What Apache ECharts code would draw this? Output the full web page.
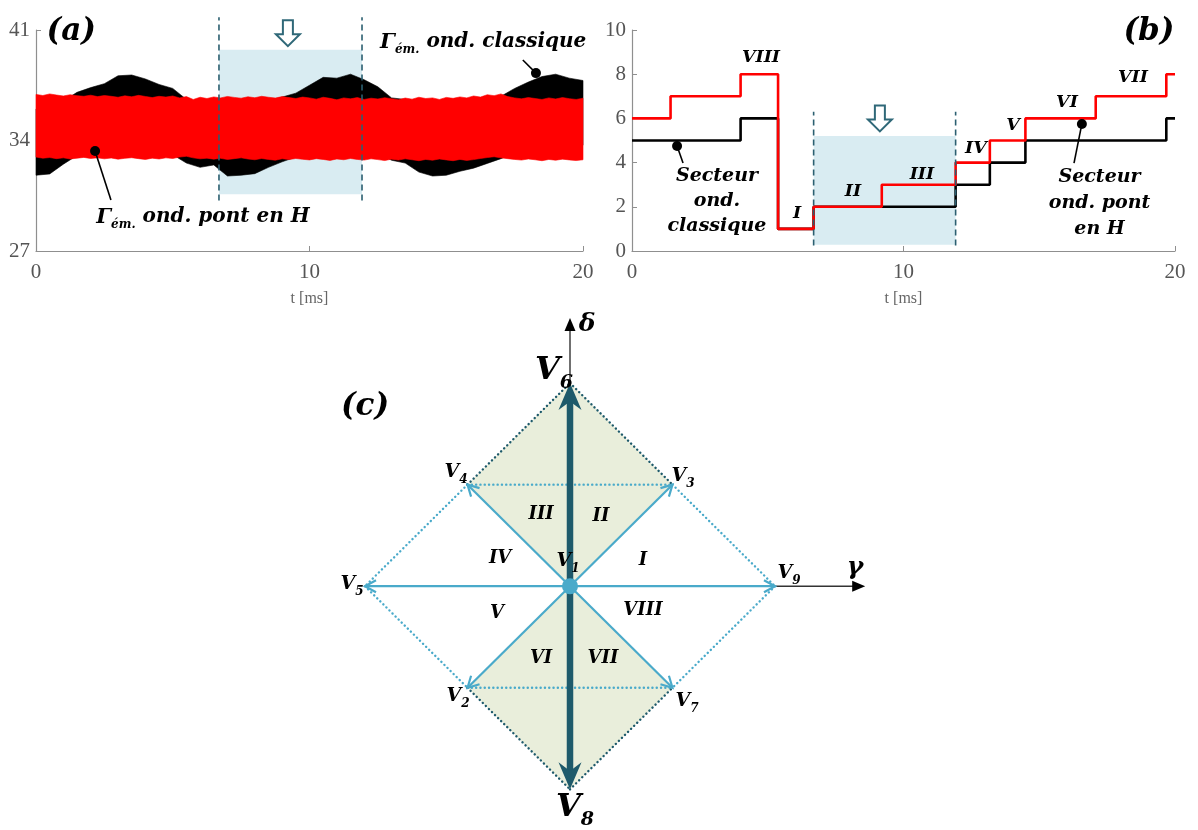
<!DOCTYPE html>
<html><head><meta charset="utf-8">
<script src="https://cdn.jsdelivr.net/npm/echarts@6/dist/echarts.min.js"></script>
<style>html,body{margin:0;padding:0;background:#fff}#c{width:1198px;height:830px}</style>
</head><body><div id="c"></div><script>
// ================= DATA =================
// Panel (a): electromagnetic torque envelopes
const redT = [0,0.25,0.5,0.75,1,1.25,1.5,1.75,2,2.25, 2.5,2.75,3,3.25,3.5,3.75,4,4.25,4.5,4.75,
  5,5.25,5.5,5.75,6,6.25,6.5,6.75,7,7.25, 7.5,7.75,8,8.25,8.5,8.75,9,9.25,9.5,9.75,
  10,10.25,10.5,10.75,11,11.25,11.5,11.75,12,12.25, 12.5,12.75,13,13.25,13.5,13.75,14,14.25,14.5,14.75,
  15,15.25,15.5,15.75,16,16.25,16.5,16.75,17,17.25, 17.5,17.75,18,18.25,18.5,18.75,19,19.25,19.5,19.75, 20];
const redUpper = [36.92,36.85,36.95,36.88,36.82,36.90,36.84,36.80,36.87,36.78,
  36.85,36.80,36.74,36.83,36.77,36.86,36.79,36.72,36.80,36.75,
  36.82,36.70,36.78,36.60,36.74,36.66,36.76,36.70,36.79,36.73,
  36.68,36.77,36.71,36.80,36.74,36.69,36.78,36.72,36.66,36.75,
  36.70,36.62,36.74,36.67,36.58,36.70,36.64,36.72,36.60,36.68,
  36.63,36.71,36.65,36.58,36.69,36.62,36.74,36.66,36.70,36.60,
  36.73,36.67,36.76,36.70,36.82,36.75,36.90,36.84,36.95,36.78,
  36.70,36.64,36.72,36.66,36.60,36.70,36.63,36.72,36.65,36.60, 36.68];
const redLower = [32.95,32.88,32.92,32.85,32.90,32.83,32.88,32.93,32.86,32.90,
  32.84,32.89,32.82,32.87,32.91,32.85,32.80,32.88,32.83,32.90,
  32.86,32.95,33.00,32.90,32.84,32.88,32.82,32.87,32.80,32.85,
  32.90,32.83,32.78,32.86,32.80,32.75,32.84,32.79,32.86,32.81,
  32.77,32.85,32.80,32.74,32.83,32.78,32.86,32.80,32.76,32.84,
  32.79,32.73,32.82,32.76,32.84,32.78,32.72,32.80,32.75,32.83,
  32.77,32.72,32.80,32.74,32.79,32.86,32.92,32.97,32.90,32.85,
  32.80,32.76,32.83,32.78,32.72,32.80,32.75,32.82,32.77,32.73, 32.78];
const blackT = [0,0.5,1,1.5,2,2.5,3,3.5,4,4.5,5,5.5,6,6.5,7,7.5,8,8.5,9,9.5,
  10,10.5,11,11.5,12,12.5,13,13.5,14,14.5,15,15.5,16,16.5,17,17.5,18,18.5,19,19.5,20];
const blackUpper = [36.0,36.1,36.5,37.05,37.35,37.6,38.1,38.15,37.9,37.55,37.3,36.6,36.3,36.4,35.9,35.95,36.1,36.5,36.75,37.0,
  37.5,38.0,37.95,38.2,37.85,37.4,36.7,36.6,36.0,36.0,35.95,36.2,36.4,36.5,36.8,37.3,37.7,38.05,38.2,37.95,37.8];
const blackLower = [31.8,31.88,32.5,33.05,33.3,33.55,33.9,34.0,33.8,33.45,33.1,32.57,32.3,32.45,31.75,31.8,31.9,32.3,32.65,32.95,
  33.35,33.8,33.8,34.0,33.7,33.2,32.75,32.57,32.0,31.75,31.8,32.05,32.25,32.55,32.85,33.2,33.6,33.95,34.05,33.8,33.7];
const yTicksA = [27, 34, 41];
const xTicks = [0, 10, 20];

// Panel (b): sector number vs time (value holds from each time to the next)
const sectorRedT = [0,1.42,4.0,5.38,6.69,9.2,11.92,13.18,14.49,17.08,19.68,20];
const sectorRed  = [6,7,8,1,2,3,4,5,6,7,8,8];
const sectorBlackT = [0,4.0,5.38,6.69,11.92,13.18,14.49,19.68,20];
const sectorBlack  = [5,6,1,2,3,4,5,6,6];
const sectorLabels = ['VIII','I','II','III','IV','V','VI','VII'];
const sectorLabelPos = [[4.75,8.78],[6.08,1.72],[8.14,2.71],[10.68,3.48],[12.67,4.66],[14.03,5.66],[16.02,6.70],[18.45,7.87]];

// Highlighted window (both panels)
const windowT = [6.69, 11.92];
const windowA = [30.6, 39.75];   // shaded band in (a)
const windowB = [0.28, 5.2];     // shaded band in (b)
const dashA = [30.2, 41.8];
const dashB = [0.25, 6.3];
const arrowA = [9.21, 40.8];
const arrowB = [9.13, 6.0];

// Panel (c): vector diagram (gamma, delta)
const vecNames = ['V1','V2','V3','V4','V5','V6','V7','V8','V9'];
const vecPts = [[0,0],[-0.5,-0.5],[0.5,0.5],[-0.5,0.5],[-1,0],[0,1],[0.5,-0.5],[0,-1],[1,0]];
const fillTop = [[0,0],[0.5,0.5],[0,1],[-0.5,0.5]];
const fillBottom = [[0,0],[0.5,-0.5],[0,-1],[-0.5,-0.5]];
const dottedDark = [[[-0.5,0.5],[0,1]],[[0,1],[0.5,0.5]],[[-0.5,-0.5],[0,-1]],[[0,-1],[0.5,-0.5]]];
const dottedLight = [[[0.5,0.5],[1,0]],[[1,0],[0.5,-0.5]],[[-0.5,0.5],[-1,0]],[[-1,0],[-0.5,-0.5]],[[-0.5,0.5],[0.5,0.5]],[[-0.5,-0.5],[0.5,-0.5]]];
const lightArrows = [[0.5,0.5],[-0.5,0.5],[-0.5,-0.5],[0.5,-0.5],[-1,0],[1,0]];
const heavyArrows = [[0,1],[0,-1]];
const axisEnds = [[1.44,0],[0,1.32]];
const vecLabelPos = [[-0.01,0.122],[-0.546,-0.541],[0.551,0.541],[-0.556,0.561],[-1.063,0.01],[-0.078,1.06],[0.571,-0.566],[0.024,-1.088],[1.068,0.063]];
const regionLabels = ['I','II','III','IV','V','VI','VII','VIII'];
const regionLabelPos = [[0.356,0.127],[0.151,0.346],[-0.141,0.356],[-0.341,0.137],[-0.356,-0.132],[-0.141,-0.356],[0.161,-0.356],[0.356,-0.117]];

// ================= STYLE =================
const SERIF = '"DejaVu Serif", serif';
const TICKFONT = '"Liberation Serif", serif';
const LBLUE = '#4aaaca', DTEAL = '#1e5a6b', DASH = '#2b5f70', SHADE = '#d9ecf2', GREEN = '#e9eedb';
function fnt(size, extra){ return Object.assign({fontStyle:'italic', fontWeight:'bold', fontSize:size, fontFamily:SERIF, fill:'#000'}, extra||{}); }

const chart = echarts.init(document.getElementById('c'));

function xAxisOf(gi){
  return {gridIndex:gi, type:'value', min:0, max:20, interval:10,
    axisLine:{show:true, onZero:false, lineStyle:{color:'#8f8f8f', width:1.2}},
    axisTick:{show:true, inside:true, length:5, lineStyle:{color:'#8f8f8f'}},
    axisLabel:{color:'#555', fontFamily:TICKFONT, fontSize:21, margin:11},
    splitLine:{show:false},
    name:'t [ms]', nameLocation:'middle', nameGap:40,
    nameTextStyle:{color:'#666', fontFamily:TICKFONT, fontSize:16}};
}
function yAxisBase(gi){
  return {gridIndex:gi, type:'value',
    axisLine:{show:true, onZero:false, lineStyle:{color:'#8f8f8f', width:1.2}},
    axisTick:{show:true, inside:true, length:5, lineStyle:{color:'#8f8f8f'}},
    axisLabel:{color:'#555', fontFamily:TICKFONT, fontSize:21, margin:6},
    splitLine:{show:false}};
}

function bandSeries(gi, ts, lo, hi, color, z){
  return {type:'custom', xAxisIndex:gi, yAxisIndex:gi, z:z, silent:true,
    data:[[ts[0], lo[0]]],
    renderItem:function(params, api){
      const pts = [];
      for (let i=0;i<ts.length;i++) pts.push(api.coord([ts[i], hi[i]]));
      for (let i=ts.length-1;i>=0;i--) pts.push(api.coord([ts[i], lo[i]]));
      return {type:'polygon', shape:{points:pts}, style:{fill:color, stroke:color, lineWidth:0.6}};
    }};
}
function windowSeries(gi, tw, yw, z){
  return {type:'custom', xAxisIndex:gi, yAxisIndex:gi, z:z, silent:true,
    data:[[tw[0], yw[0], tw[1], yw[1]]],
    renderItem:function(params, api){
      const a = api.coord([tw[0], yw[0]]), b = api.coord([tw[1], yw[1]]);
      return {type:'rect', shape:{x:a[0], y:b[1], width:b[0]-a[0], height:a[1]-b[1]}, style:{fill:SHADE}};
    }};
}
function dashSeries(gi, tw, dy, ap, z){
  return {type:'custom', xAxisIndex:gi, yAxisIndex:gi, z:z, silent:true,
    data:[[tw[0], dy[0]]],
    renderItem:function(params, api){
      const ch = [];
      tw.forEach(function(t){
        const p = api.coord([t, dy[0]]), q = api.coord([t, dy[1]]);
        ch.push({type:'line', shape:{x1:p[0], y1:p[1], x2:q[0], y2:q[1]}, style:{stroke:DASH, lineWidth:1.6, lineDash:[6,4]}});
      });
      const c = api.coord(ap);
      const pts = [[-5,-13],[5,-13],[5,1],[12,1],[0,13],[-12,1],[-5,1]].map(function(o){return [c[0]+o[0], c[1]+o[1]];});
      ch.push({type:'polygon', shape:{points:pts}, style:{fill:'#fff', stroke:'#2f6878', lineWidth:2}});
      return {type:'group', children:ch};
    }};
}
function calloutSeries(gi, dot, end, z){
  return {type:'custom', xAxisIndex:gi, yAxisIndex:gi, z:z, silent:true,
    data:[[dot[0], dot[1]]],
    renderItem:function(params, api){
      const p = api.coord(dot), q = api.coord(end);
      return {type:'group', children:[
        {type:'line', shape:{x1:p[0], y1:p[1], x2:q[0], y2:q[1]}, style:{stroke:'#000', lineWidth:1.6}},
        {type:'circle', shape:{cx:p[0], cy:p[1], r:5}, style:{fill:'#000'}}
      ]};
    }};
}
function textSeries(gi, pos, texts, style, z){
  return {type:'custom', xAxisIndex:gi, yAxisIndex:gi, z:z, silent:true,
    data:pos.map(function(p){return [p[0], p[1]];}),
    renderItem:function(params, api){
      const p = api.coord([api.value(0), api.value(1)]);
      return {type:'text', x:p[0], y:p[1], style:Object.assign({text:texts[params.dataIndex], align:'center', verticalAlign:'middle'}, style)};
    }};
}

const subRich = function(main, sub, pad){
  return {
    m:fnt(main, {lineHeight:main, verticalAlign:'top'}),
    s:fnt(sub, {lineHeight:sub, padding:[pad,0,0,0], verticalAlign:'top'}),
    t:fnt(main-1, {lineHeight:main, verticalAlign:'top'})
  };
};

// ---- panel (c) renderers ----
function polySeries(polys, color, z){
  return {type:'custom', xAxisIndex:2, yAxisIndex:2, z:z, silent:true,
    data:polys.map(function(p){return [p[0][0], p[0][1]];}),
    renderItem:function(params, api){
      const pts = polys[params.dataIndex].map(function(v){return api.coord(v);});
      return {type:'polygon', shape:{points:pts}, style:{fill:color}};
    }};
}
function segSeries(segs, color, width, dash, z){
  return {type:'custom', xAxisIndex:2, yAxisIndex:2, z:z, silent:true,
    data:segs.map(function(s){return [s[0][0], s[0][1], s[1][0], s[1][1]];}),
    encode:{x:[0,2], y:[1,3]},
    renderItem:function(params, api){
      const p = api.coord([api.value(0), api.value(1)]), q = api.coord([api.value(2), api.value(3)]);
      return {type:'line', shape:{x1:p[0], y1:p[1], x2:q[0], y2:q[1]}, style:{stroke:color, lineWidth:width, lineDash:dash, lineCap:'round'}};
    }};
}
function arrowSeries(tips, kind, z){
  return {type:'custom', xAxisIndex:2, yAxisIndex:2, z:z, silent:true,
    data:tips.map(function(t){return [t[0], t[1]];}),
    renderItem:function(params, api){
      const o = api.coord([0,0]), t = api.coord([api.value(0), api.value(1)]);
      const dx = t[0]-o[0], dy = t[1]-o[1], L = Math.sqrt(dx*dx+dy*dy);
      const ux = dx/L, uy = dy/L, nx = -uy, ny = ux;
      const ch = [];
      if (kind === 'light'){
        const hl = 11, hw = 6;
        ch.push({type:'line', shape:{x1:o[0], y1:o[1], x2:t[0]-ux*1.5, y2:t[1]-uy*1.5}, style:{stroke:LBLUE, lineWidth:2.2}});
        ch.push({type:'polyline', shape:{points:[[t[0]-ux*hl+nx*hw, t[1]-uy*hl+ny*hw],[t[0],t[1]],[t[0]-ux*hl-nx*hw, t[1]-uy*hl-ny*hw]]}, style:{stroke:LBLUE, lineWidth:2.2, fill:null, lineJoin:'miter'}});
      } else if (kind === 'heavy'){
        const hl = 27, hw = 11.5;
        ch.push({type:'line', shape:{x1:o[0], y1:o[1], x2:t[0]-ux*hl*0.6, y2:t[1]-uy*hl*0.6}, style:{stroke:DTEAL, lineWidth:6.5}});
        ch.push({type:'polygon', shape:{points:[[t[0],t[1]],[t[0]-ux*hl+nx*hw, t[1]-uy*hl+ny*hw],[t[0]-ux*hl*0.68, t[1]-uy*hl*0.68],[t[0]-ux*hl-nx*hw, t[1]-uy*hl-ny*hw]]}, style:{fill:DTEAL}});
      } else {
        const hl = 13, hw = 5.5;
        ch.push({type:'line', shape:{x1:o[0], y1:o[1], x2:t[0]-ux*hl*0.8, y2:t[1]-uy*hl*0.8}, style:{stroke:'#333', lineWidth:1.4}});
        ch.push({type:'polygon', shape:{points:[[t[0],t[1]],[t[0]-ux*hl+nx*hw, t[1]-uy*hl+ny*hw],[t[0]-ux*hl-nx*hw, t[1]-uy*hl-ny*hw]]}, style:{fill:'#000'}});
      }
      return {type:'group', children:ch};
    }};
}
function dotSeries(pt, z){
  return {type:'custom', xAxisIndex:2, yAxisIndex:2, z:z, silent:true,
    data:[[pt[0], pt[1]]],
    renderItem:function(params, api){
      const p = api.coord(pt);
      return {type:'circle', shape:{cx:p[0], cy:p[1], r:8}, style:{fill:LBLUE}};
    }};
}

// vector labels as rich text
const vecTexts = vecNames.map(function(n){
  const big = (n === 'V6' || n === 'V8');
  return big ? '{M|V}{S|' + n.slice(1) + '}' : '{m|V}{s|' + n.slice(1) + '}';
});
const vecRich = {
  m:fnt(19, {lineHeight:19, verticalAlign:'top'}),
  s:fnt(12, {lineHeight:12, padding:[11,0,0,0], verticalAlign:'top'}),
  M:fnt(32, {lineHeight:32, verticalAlign:'top'}),
  S:fnt(19, {lineHeight:19, padding:[19,0,0,0], verticalAlign:'top'})
};

const option = {
  animation:false,
  backgroundColor:'#fff',
  grid:[
    {left:36, top:30, width:547, height:221},
    {left:632, top:30, width:543, height:221},
    {left:262.5, top:281.5, width:615, height:553.5}
  ],
  xAxis:[
    xAxisOf(0),
    xAxisOf(1),
    {gridIndex:2, type:'value', min:-1.5, max:1.5, show:false}
  ],
  yAxis:[
    Object.assign(yAxisBase(0), {min:27, max:41,
      axisLabel:Object.assign(yAxisBase(0).axisLabel, {customValues:yTicksA}),
      axisTick:Object.assign(yAxisBase(0).axisTick, {customValues:yTicksA})}),
    Object.assign(yAxisBase(1), {min:0, max:10, interval:2}),
    {gridIndex:2, type:'value', min:-1.2, max:1.5, show:false}
  ],
  series:[
    // ---------- (a) ----------
    windowSeries(0, windowT, windowA, 1),
    bandSeries(0, blackT, blackLower, blackUpper, '#000', 2),
    bandSeries(0, redT, redLower, redUpper, '#ff0000', 3),
    dashSeries(0, windowT, dashA, arrowA, 4),
    calloutSeries(0, [18.28, 38.27], [17.8, 39.1], 5),
    calloutSeries(0, [2.16, 33.33], [2.74, 30.23], 5),
    textSeries(0, [[1.29, 40.9]], ['(a)'], fnt(31), 6),
    textSeries(0, [[12.58, 40.2]], ['{m|Γ}{s|ém.}{t| ond. classique}'], {align:'left', rich:subRich(21, 12, 12)}, 6),
    textSeries(0, [[2.2, 29.15]], ['{m|Γ}{s|ém.}{t| ond. pont en H}'], {align:'left', rich:subRich(21, 12, 12)}, 6),
    // ---------- (b) ----------
    windowSeries(1, windowT, windowB, 1),
    {type:'line', xAxisIndex:1, yAxisIndex:1, step:'end', symbol:'none', z:2, silent:true,
     data:sectorBlackT.map(function(t,i){return [t, sectorBlack[i]];}),
     lineStyle:{color:'#000', width:2.6}},
    {type:'line', xAxisIndex:1, yAxisIndex:1, step:'end', symbol:'none', z:3, silent:true,
     data:sectorRedT.map(function(t,i){return [t, sectorRed[i]];}),
     lineStyle:{color:'#ff0000', width:2.6}},
    dashSeries(1, windowT, dashB, arrowB, 4),
    calloutSeries(1, [1.66, 4.75], [1.88, 3.98], 5),
    calloutSeries(1, [16.57, 5.75], [16.28, 3.98], 5),
    textSeries(1, sectorLabelPos, sectorLabels, fnt(17.5), 6),
    textSeries(1, [[19.98, 9.9]], ['(b)'], fnt(31, {align:'right'}), 6),
    textSeries(1, [[3.13, 2.28]], ['Secteur\nond.\nclassique'], fnt(19, {lineHeight:25}), 6),
    textSeries(1, [[17.22, 2.15]], ['Secteur\nond. pont\nen H'], fnt(19, {lineHeight:26}), 6),
    // ---------- (c) ----------
    polySeries([fillTop, fillBottom], GREEN, 1),
    arrowSeries(axisEnds, 'axis', 2),
    segSeries(dottedLight, LBLUE, 2.4, [0.1, 4.2], 3),
    segSeries(dottedDark, DTEAL, 2.4, [0.1, 4.2], 3),
    arrowSeries(lightArrows, 'light', 4),
    arrowSeries(heavyArrows, 'heavy', 5),
    dotSeries(vecPts[0], 6),
    textSeries(2, vecLabelPos, vecTexts, {rich:vecRich}, 7),
    textSeries(2, regionLabelPos, regionLabels, fnt(18), 7),
    textSeries(2, [[0.083, 1.29],[1.39, 0.093]], ['δ','γ'], fnt(25), 7),
    textSeries(2, [[-1.0, 0.883]], ['(c)'], fnt(31), 7)
  ]
};
chart.setOption(option);
</script></body></html>
